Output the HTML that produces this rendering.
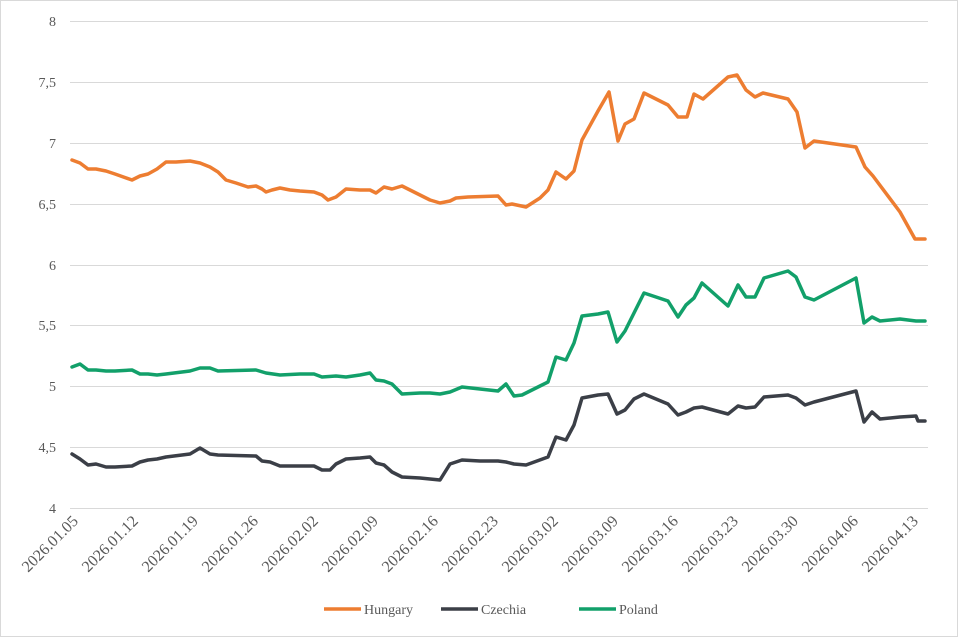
<!DOCTYPE html>
<html><head><style>body{margin:0;background:#fff}svg{display:block}</style></head><body>
<svg width="958" height="637" xmlns="http://www.w3.org/2000/svg" font-family="Liberation Serif, serif" fill="#595959">
<rect x="0.5" y="0.5" width="957" height="636" fill="#fff" stroke="#d9d9d9"/>
<g stroke="#d9d9d9" stroke-width="1">
<line x1="70" x2="928" y1="21.5" y2="21.5"/><line x1="70" x2="928" y1="82.5" y2="82.5"/><line x1="70" x2="928" y1="143.5" y2="143.5"/><line x1="70" x2="928" y1="204.5" y2="204.5"/><line x1="70" x2="928" y1="265.5" y2="265.5"/><line x1="70" x2="928" y1="325.5" y2="325.5"/><line x1="70" x2="928" y1="386.5" y2="386.5"/><line x1="70" x2="928" y1="447.5" y2="447.5"/><line x1="70" x2="928" y1="508.5" y2="508.5"/>
</g>
<g font-size="14" text-anchor="end">
<text x="56" y="26">8</text><text x="56" y="87">7,5</text><text x="56" y="148">7</text><text x="56" y="209">6,5</text><text x="56" y="270">6</text><text x="56" y="330">5,5</text><text x="56" y="391">5</text><text x="56" y="452">4,5</text><text x="56" y="513">4</text>
</g>
<g font-size="16" text-anchor="end">
<text transform="translate(79,522) rotate(-45)">2026.01.05</text>
<text transform="translate(139,522) rotate(-45)">2026.01.12</text>
<text transform="translate(199,522) rotate(-45)">2026.01.19</text>
<text transform="translate(259,522) rotate(-45)">2026.01.26</text>
<text transform="translate(319,522) rotate(-45)">2026.02.02</text>
<text transform="translate(379,522) rotate(-45)">2026.02.09</text>
<text transform="translate(439,522) rotate(-45)">2026.02.16</text>
<text transform="translate(499,522) rotate(-45)">2026.02.23</text>
<text transform="translate(559,522) rotate(-45)">2026.03.02</text>
<text transform="translate(619,522) rotate(-45)">2026.03.09</text>
<text transform="translate(679,522) rotate(-45)">2026.03.16</text>
<text transform="translate(739,522) rotate(-45)">2026.03.23</text>
<text transform="translate(799,522) rotate(-45)">2026.03.30</text>
<text transform="translate(859,522) rotate(-45)">2026.04.06</text>
<text transform="translate(919,522) rotate(-45)">2026.04.13</text>
</g>
<g fill="none" stroke-width="3.5" stroke-linejoin="round" stroke-linecap="round">
<polyline stroke="#ED7D31" points="72,160 80,163 88,169 96,169 106,171 115,174 132,180 140,176 148,174 157,169 166,162 176,162 190,161 200,163 210,167 218,172 226,180 236,183 248,187 256,186 262,189 266,192 272,190 280,188 290,190 300,191 314,192 322,195 328,200 336,197 346,189 360,190 370,190 376,193 384,187 392,189 402,186 410,190 420,195 430,200 440,203 450,201 456,198 468,197 498,196 506,205 512,204 526,207 540,198 548,190 556,172 566,179 574,171 582,140 598,111 609,92 618,141 625,124 634,119 644,93 668,105 678,117 687,117 694,94 703,99 728,77 737,75 746,90 755,97 763,93 788,99 797,112 805,148 814,141 856,147 865,167 873,176 900,212 915,239 925,239"/>
<polyline stroke="#3B3F47" points="72,454 80,459 88,465 96,464 106,467 115,467 132,466 140,462 148,460 157,459 166,457 190,454 200,448 210,454 218,455 256,456 262,461 270,462 280,466 300,466 314,466 322,470 330,470 336,464 346,459 360,458 370,457 376,463 384,465 392,472 402,477 420,478 430,479 440,480 450,464 462,460 480,461 498,461 506,462 514,464 526,465 548,457 556,437 566,440 574,425 582,398 598,395 608,394 617,414 625,410 634,399 644,394 668,404 678,415 686,412 694,408 702,407 728,414 738,406 746,408 755,407 764,397 788,395 796,398 805,405 814,402 856,391 864,422 872,412 880,419 900,417 916,416 918,421 925,421"/>
<polyline stroke="#12A06A" points="72,367 80,364 88,370 96,370 106,371 115,371 132,370 140,374 148,374 157,375 166,374 190,371 200,368 210,368 218,371 256,370 266,373 280,375 300,374 314,374 322,377 336,376 346,377 360,375 370,373 376,380 384,381 392,384 402,394 420,393 430,393 440,394 450,392 462,387 480,389 498,391 506,384 514,396 522,395 540,386 548,382 556,357 566,360 574,343 582,316 598,314 608,312 617,342 625,331 634,313 644,293 668,301 678,317 686,305 694,298 702,283 728,306 738,285 746,297 755,297 764,278 788,271 796,277 805,297 814,300 856,278 864,323 872,317 880,321 900,319 916,321 925,321"/>
</g>
<g stroke-width="3.5">
<line x1="324" x2="361" y1="609" y2="609" stroke="#ED7D31"/>
<line x1="441" x2="478" y1="609" y2="609" stroke="#3B3F47"/>
<line x1="579" x2="616" y1="609" y2="609" stroke="#12A06A"/>
</g>
<g font-size="14">
<text x="364" y="614">Hungary</text><text x="481" y="614">Czechia</text><text x="619" y="614">Poland</text>
</g>
</svg>
</body></html>
